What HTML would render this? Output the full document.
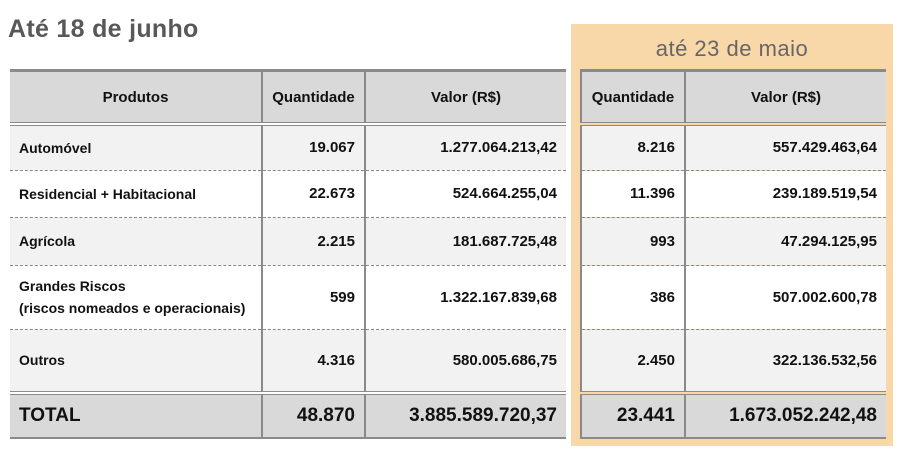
<!DOCTYPE html>
<html><head><meta charset="utf-8">
<style>
body{margin:0;width:901px;height:453px;background:#fff;position:relative;overflow:hidden;font-family:"Liberation Sans Narrow","Liberation Sans",sans-serif;}
.abs{position:absolute;}
.title{left:8px;top:15px;font-family:"Liberation Sans",sans-serif;font-weight:bold;font-size:25px;color:#585858;letter-spacing:0.3px;}
.panel{left:571px;top:24px;width:322px;height:422px;background:#f8d7a8;}
.sub{left:571px;top:36px;width:322px;text-align:center;font-family:"Liberation Sans",sans-serif;font-size:22px;color:#666;letter-spacing:0.5px;}
table{position:absolute;border-collapse:collapse;table-layout:fixed;}
td{font-weight:bold;font-size:15px;color:#111;border-left:2px solid #8a8a8a;border-right:2px solid #8a8a8a;padding:0 9px;overflow:hidden;white-space:nowrap;}
td.l{text-align:left;font-size:14px;}
td.r{text-align:right;}
td.c{text-align:center;}
tr.h td{background:#d9d9d9;height:50px;border-top:3px solid #8a8a8a;border-bottom:4px double #8a8a8a;}
tr.g td{background:#f2f2f2;}
tr.w td{background:#fff;}
tr.d td{border-bottom:1px dashed #888;}
tr.t td{background:#d9d9d9;border-top:4px double #8a8a8a;border-bottom:2px solid #8a8a8a;font-size:19px;height:42px;}
td.first{border-left:none;}
td.last{border-right:none;}
</style></head><body>
<div class="abs title">Até 18 de junho</div>
<div class="abs panel"></div>
<div class="abs sub">até 23 de maio</div>

<table style="left:10px;top:69px;width:556px;">
<colgroup><col style="width:252px"><col style="width:103px"><col style="width:201px"></colgroup>
<tr class="h"><td class="c first">Produtos</td><td class="c">Quantidade</td><td class="c last">Valor (R$)</td></tr>
<tr class="g d" style="height:46px"><td class="l first">Automóvel</td><td class="r">19.067</td><td class="r last">1.277.064.213,42</td></tr>
<tr class="w d" style="height:47px"><td class="l first">Residencial + Habitacional</td><td class="r">22.673</td><td class="r last">524.664.255,04</td></tr>
<tr class="g d" style="height:48px"><td class="l first">Agrícola</td><td class="r">2.215</td><td class="r last">181.687.725,48</td></tr>
<tr class="w d" style="height:64px"><td class="l first" style="line-height:22px">Grandes Riscos<br>(riscos nomeados e operacionais)</td><td class="r">599</td><td class="r last">1.322.167.839,68</td></tr>
<tr class="g" style="height:64px"><td class="l first">Outros</td><td class="r">4.316</td><td class="r last">580.005.686,75</td></tr>
<tr class="t"><td class="l first" style="font-size:19px">TOTAL</td><td class="r">48.870</td><td class="r last">3.885.589.720,37</td></tr>
</table>

<table style="left:580px;top:69px;width:305px;">
<colgroup><col style="width:104px"><col style="width:201px"></colgroup>
<tr class="h"><td class="c" style="border-left:2px solid #8a8a8a">Quantidade</td><td class="c last">Valor (R$)</td></tr>
<tr class="g d" style="height:46px"><td class="r">8.216</td><td class="r last">557.429.463,64</td></tr>
<tr class="w d" style="height:47px"><td class="r">11.396</td><td class="r last">239.189.519,54</td></tr>
<tr class="g d" style="height:48px"><td class="r">993</td><td class="r last">47.294.125,95</td></tr>
<tr class="w d" style="height:64px"><td class="r">386</td><td class="r last">507.002.600,78</td></tr>
<tr class="g" style="height:64px"><td class="r">2.450</td><td class="r last">322.136.532,56</td></tr>
<tr class="t"><td class="r">23.441</td><td class="r last">1.673.052.242,48</td></tr>
</table>
</body></html>
